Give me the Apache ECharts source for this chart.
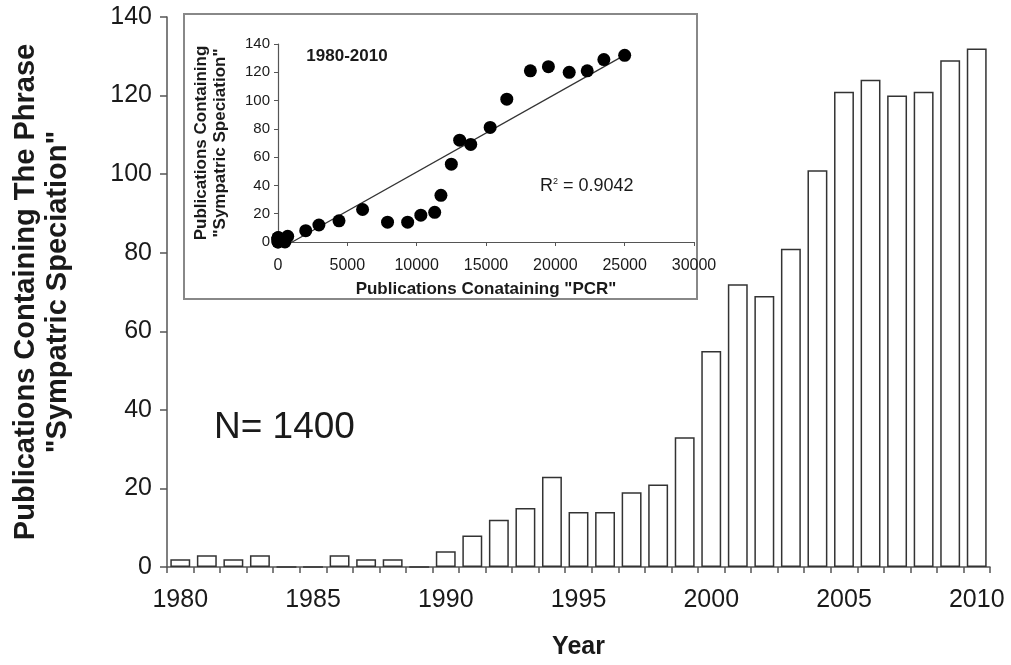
<!DOCTYPE html>
<html>
<head>
<meta charset="utf-8">
<script src="https://cdn.jsdelivr.net/npm/echarts@6/dist/echarts.min.js"></script>
<style>
html,body{margin:0;padding:0;background:#fff;}
#chart{width:1011px;height:665px;}
</style>
</head>
<body>
<div id="chart"></div>
<script>
// ---- data ----
var years = ['1980','1981','1982','1983','1984','1985','1986','1987','1988','1989',
             '1990','1991','1992','1993','1994','1995','1996','1997','1998','1999',
             '2000','2001','2002','2003','2004','2005','2006','2007','2008','2009','2010'];
var sympatricPubs = [2,3,2,3,0,0,3,2,2,0,
                     4,8,12,15,23,14,14,19,21,33,
                     55,72,69,81,101,121,124,120,121,129,132];
var pcrPubs = [0,0,0,0,0,0,50,150,300,500,
               700,2000,2950,4400,6100,7900,9350,10300,11300,11750,
               12500,13100,13900,15300,16500,18200,19500,21000,22300,23500,25000];
var mainYTicks = [0,20,40,60,80,100,120,140];
var insetXTicks = [0,5000,10000,15000,20000,25000,30000];
var insetYTicks = [0,20,40,60,80,100,120,140];
var totalLabel = 'N= 1400';
var rangeLabel = '1980-2010';
var r2Value = '0.9042';

// scatter pairs
var scatterData = pcrPubs.map(function(x,i){ return [x, sympatricPubs[i]]; });
// least-squares trend line from the data
var n = scatterData.length, sx=0, sy=0, sxx=0, sxy=0;
scatterData.forEach(function(p){ sx+=p[0]; sy+=p[1]; sxx+=p[0]*p[0]; sxy+=p[0]*p[1]; });
var slope = (n*sxy - sx*sy)/(n*sxx - sx*sx);
var intercept = (sy - slope*sx)/n;
var xMin = Math.min.apply(null, pcrPubs), xMax = Math.max.apply(null, pcrPubs);
var trendData = [[xMin, intercept + slope*xMin],[xMax, intercept + slope*xMax]];

var FONT = '"Liberation Sans", Arial, Helvetica, sans-serif';
var TXT = '#1a1a1a';
var AX = '#555';

var chart = echarts.init(document.getElementById('chart'), null, {renderer:'canvas'});
chart.setOption({
  animation: false,
  backgroundColor: '#fff',
  textStyle: { fontFamily: FONT },
  grid: [
    { left: 167, right: 21, top: 17, bottom: 98, containLabel: false, outerBoundsMode: 'none' },
    { left: 278, right: 317, top: 44, bottom: 423, containLabel: false, outerBoundsMode: 'none' }
  ],
  xAxis: [
    {
      type: 'category', gridIndex: 0, data: years,
      boundaryGap: true,
      axisLine: { lineStyle: { color: AX, width: 1.5 } },
      axisTick: { show: true, interval: 0, length: 6, lineStyle: { color: AX, width: 1.5 } },
      axisLabel: { interval: 4, color: TXT, fontSize: 25, margin: 21, fontFamily: FONT },
      name: 'Year', nameLocation: 'middle', nameGap: 68,
      nameTextStyle: { fontSize: 25, fontWeight: 'bold', color: TXT, fontFamily: FONT }
    },
    {
      type: 'value', gridIndex: 1, min: 0, max: 30000, interval: 5000,
      splitLine: { show: false },
      axisLine: { show: true, lineStyle: { color: AX, width: 1.2 } },
      axisTick: { show: true, length: 4, lineStyle: { color: AX } },
      axisLabel: { color: TXT, fontSize: 16, margin: 16, fontFamily: FONT,
                   formatter: function(v){ return String(v); } },
      name: 'Publications Conataining "PCR"', nameLocation: 'middle', nameGap: 39,
      nameTextStyle: { fontSize: 17, fontWeight: 'bold', color: TXT, fontFamily: FONT }
    }
  ],
  yAxis: [
    {
      type: 'value', gridIndex: 0, min: 0, max: 140, interval: 20,
      splitLine: { show: false },
      axisLine: { show: true, lineStyle: { color: AX, width: 1.5 } },
      axisTick: { show: true, length: 7, lineStyle: { color: AX, width: 1.5 } },
      axisLabel: { color: TXT, fontSize: 25, margin: 15, fontFamily: FONT },
      name: 'Publications Containing The Phrase\n"Sympatric Speciation"',
      nameLocation: 'middle', nameRotate: 90, nameGap: 93,
      nameTextStyle: { fontSize: 29, fontWeight: 'bold', color: TXT, lineHeight: 32, fontFamily: FONT }
    },
    {
      type: 'value', gridIndex: 1, min: 0, max: 140, interval: 20,
      splitLine: { show: false },
      axisLine: { show: true, lineStyle: { color: AX, width: 1.2 } },
      axisTick: { show: true, length: 4, lineStyle: { color: AX } },
      axisLabel: { color: TXT, fontSize: 15, margin: 8, fontFamily: FONT },
      name: 'Publications Containing\n"Sympatric Speciation"',
      nameLocation: 'middle', nameRotate: 90, nameGap: 48,
      nameTextStyle: { fontSize: 17, fontWeight: 'bold', color: TXT, lineHeight: 19, fontFamily: FONT }
    }
  ],
  graphic: [
    { type: 'rect', z: -10, shape: { x: 184, y: 14, width: 513, height: 285 },
      style: { fill: '#fff', stroke: '#888', lineWidth: 2 } },
    { type: 'text', x: 214, y: 428,
      style: { text: totalLabel, font: '37px ' + FONT, fill: TXT, align: 'left', verticalAlign: 'middle' } },
    { type: 'text', x: 347, y: 56,
      style: { text: rangeLabel, font: 'bold 17px ' + FONT, fill: TXT, align: 'center', verticalAlign: 'middle' } },
    { type: 'text', x: 540, y: 186,
      style: { text: 'R{sup|2} = ' + r2Value, font: '18px ' + FONT, fill: TXT, align: 'left', verticalAlign: 'middle',
               rich: { sup: { fontSize: 9, verticalAlign: 'top', padding: [0,0,9,0], fontFamily: FONT, fill: TXT } } } }
  ],
  series: [
    {
      type: 'bar', xAxisIndex: 0, yAxisIndex: 0, data: sympatricPubs,
      barCategoryGap: '25%',
      itemStyle: { color: '#fff', borderColor: '#333', borderWidth: 1.5 }
    },
    {
      type: 'line', xAxisIndex: 1, yAxisIndex: 1, data: trendData,
      showSymbol: false, clip: true, silent: true,
      lineStyle: { color: '#333', width: 1.2 }, z: 3
    },
    {
      type: 'scatter', xAxisIndex: 1, yAxisIndex: 1, data: scatterData,
      symbolSize: 13, clip: false,
      itemStyle: { color: '#000', opacity: 1 }, z: 4
    }
  ]
});
</script>
</body>
</html>
